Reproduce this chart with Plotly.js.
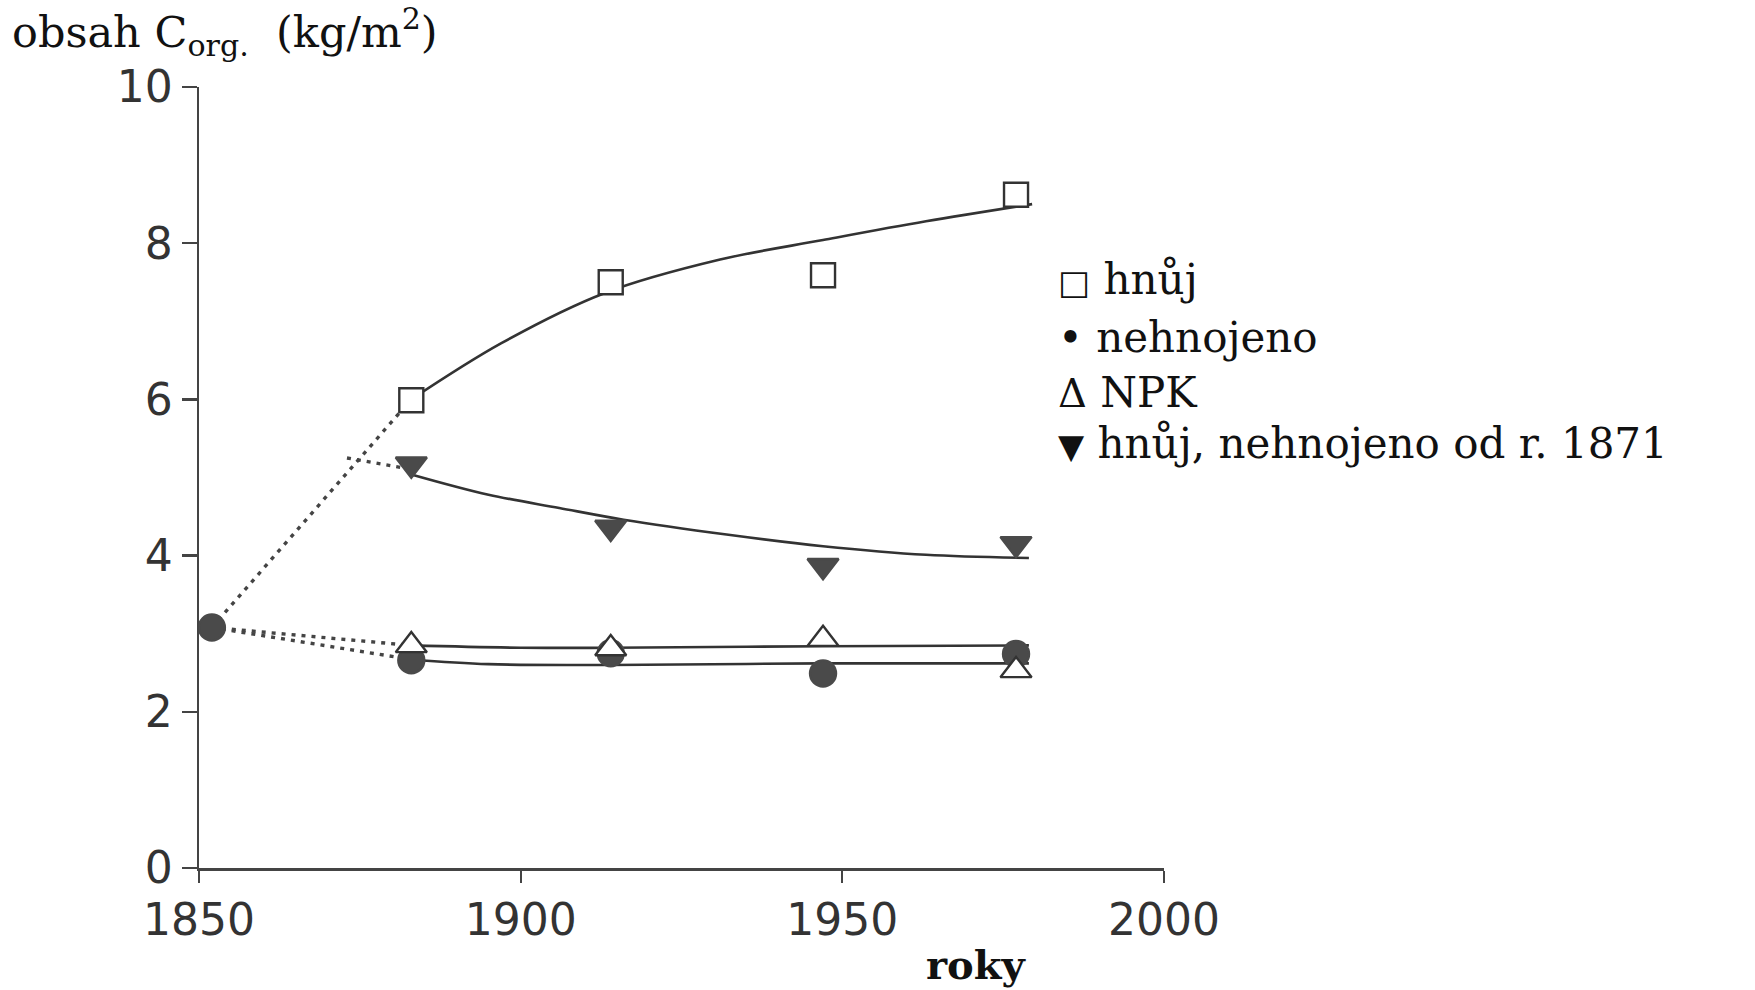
<!DOCTYPE html>
<html>
<head>
<meta charset="utf-8">
<script src="https://cdn.plot.ly/plotly-3.0.1.min.js"></script>
<style>
  html, body { margin: 0; padding: 0; background: #ffffff; }
  #chart { width: 1755px; height: 990px; }
</style>
</head>
<body>
<div id="chart"></div>
<script>
// ---- data ----
const startYear = [1852];
const startValue = [3.08];

const sampleYears = [1883, 1914, 1947, 1977];
const hnujValues = [5.99, 7.50, 7.59, 8.62];
const nehnojenoValues = [2.66, 2.75, 2.49, 2.74];
const npkValues = [2.85, 2.81, 2.93, 2.53];
const hnuj1871Values = [5.17, 4.36, 3.87, 4.15];

// fitted curves
const hnujFitYears = [1883, 1897, 1913, 1931, 1947, 1963, 1979.5];
const hnujFitValues = [6.00, 6.72, 7.36, 7.79, 8.04, 8.28, 8.50];
const hnuj1871FitYears = [1883, 1895, 1906, 1916, 1932, 1947, 1963, 1979];
const hnuj1871FitValues = [5.04, 4.78, 4.61, 4.46, 4.27, 4.12, 4.01, 3.97];
const npkFitYears = [1883, 1900, 1914, 1947, 1979];
const npkFitValues = [2.85, 2.82, 2.82, 2.84, 2.85];
const nehnojenoFitYears = [1883, 1895, 1914, 1947, 1979];
const nehnojenoFitValues = [2.67, 2.61, 2.60, 2.62, 2.62];

// dotted connections from the 1852 start
const hnujLinkYears = [1852, 1883];
const hnujLinkValues = [3.08, 6.00];
const branch1871Years = [1873, 1882];
const branch1871Values = [5.25, 5.12];
const npkLinkYears = [1852, 1883];
const npkLinkValues = [3.08, 2.85];
const nehnojenoLinkYears = [1852, 1883];
const nehnojenoLinkValues = [3.08, 2.67];

// legend / axis texts
const legendSymbols = ['□', '•', 'Δ', '▼'];
const legendLabels = ['hnůj', 'nehnojeno', 'NPK', 'hnůj, nehnojeno od r. 1871'];
const yTitle = 'obsah C<sub>org.</sub>  (kg/m<sup>2</sup>)';
const xTitle = '<b>roky</b>';
const xTickVals = [1850, 1900, 1950, 2000];
const yTickVals = [0, 2, 4, 6, 8, 10];

// ---- styling ----
const lineColor = '#333333';
const dark = '#4a4a4a';
const dotted = {color: '#444444', width: 3.4, dash: '4px,6px'};
const solid = {color: lineColor, width: 2.6, shape: 'spline', smoothing: 1};

function lineTrace(x, y, line) {
  return {x: x, y: y, type: 'scatter', mode: 'lines', line: line, showlegend: false, hoverinfo: 'skip'};
}
function markerTrace(x, y, symbol, size, fill, outline) {
  return {x: x, y: y, type: 'scatter', mode: 'markers', showlegend: false,
    marker: {symbol: symbol, size: size, color: fill, line: {color: outline, width: 2.4}}};
}

const traces = [
  lineTrace(hnujLinkYears, hnujLinkValues, dotted),
  lineTrace(branch1871Years, branch1871Values, dotted),
  lineTrace(npkLinkYears, npkLinkValues, dotted),
  lineTrace(nehnojenoLinkYears, nehnojenoLinkValues, dotted),
  lineTrace(hnujFitYears, hnujFitValues, solid),
  lineTrace(hnuj1871FitYears, hnuj1871FitValues, solid),
  lineTrace(npkFitYears, npkFitValues, solid),
  lineTrace(nehnojenoFitYears, nehnojenoFitValues, solid),
  markerTrace(sampleYears, hnujValues, 'square', 24, '#ffffff', lineColor),
  markerTrace(sampleYears, hnuj1871Values, 'triangle-down', 27, dark, dark),
  markerTrace(sampleYears, nehnojenoValues, 'circle', 26, dark, dark),
  markerTrace(sampleYears, npkValues, 'triangle-up', 27, '#ffffff', lineColor),
  markerTrace(startYear, startValue, 'circle', 26, dark, dark)
];

const serif = 'DejaVu Serif, Liberation Serif, serif';
const legendY = [0.753, 0.679, 0.609, 0.543];
const symbolSizes = [34, 42, 40, 34];
const annotations = legendLabels.map((t, i) => ({
  text: '<span style="font-size:' + symbolSizes[i] + 'px">' + legendSymbols[i] + '</span> ' + t,
  xref: 'paper', yref: 'paper', x: 0.888, y: legendY[i],
  xanchor: 'left', yanchor: 'middle', showarrow: false,
  font: {family: serif, size: 42, color: '#111111'}
}));
annotations.push({
  text: yTitle, xref: 'paper', yref: 'paper', x: (10 - 199) / 965, y: 1.071,
  xanchor: 'left', yanchor: 'middle', showarrow: false,
  font: {family: serif, size: 43, color: '#111111'}
});
annotations.push({
  text: xTitle, xref: 'x', yref: 'paper', x: 1970.8, y: -0.124,
  xanchor: 'center', yanchor: 'middle', showarrow: false,
  font: {family: serif, size: 40, color: '#111111'}
});

const axisCommon = {
  showgrid: false, zeroline: false, showline: true,
  linecolor: '#444444', linewidth: 2.5,
  ticks: 'outside', tickwidth: 2.2, tickcolor: '#444444',
  tickfont: {family: 'DejaVu Sans, Liberation Sans, sans-serif', size: 44, color: '#333333'},
  fixedrange: true
};

const layout = {
  width: 1755, height: 990, autosize: false,
  margin: {l: 199, r: 591, t: 87, b: 122},
  paper_bgcolor: '#ffffff', plot_bgcolor: '#ffffff',
  showlegend: false,
  xaxis: Object.assign({}, axisCommon, {range: [1850, 2000], tickmode: 'array', tickvals: xTickVals, ticklen: 12}),
  yaxis: Object.assign({}, axisCommon, {range: [0, 10], tickmode: 'array', tickvals: yTickVals, ticklen: 15}),
  annotations: annotations
};

Plotly.newPlot('chart', traces, layout, {staticPlot: true, displayModeBar: false});
</script>
</body>
</html>
